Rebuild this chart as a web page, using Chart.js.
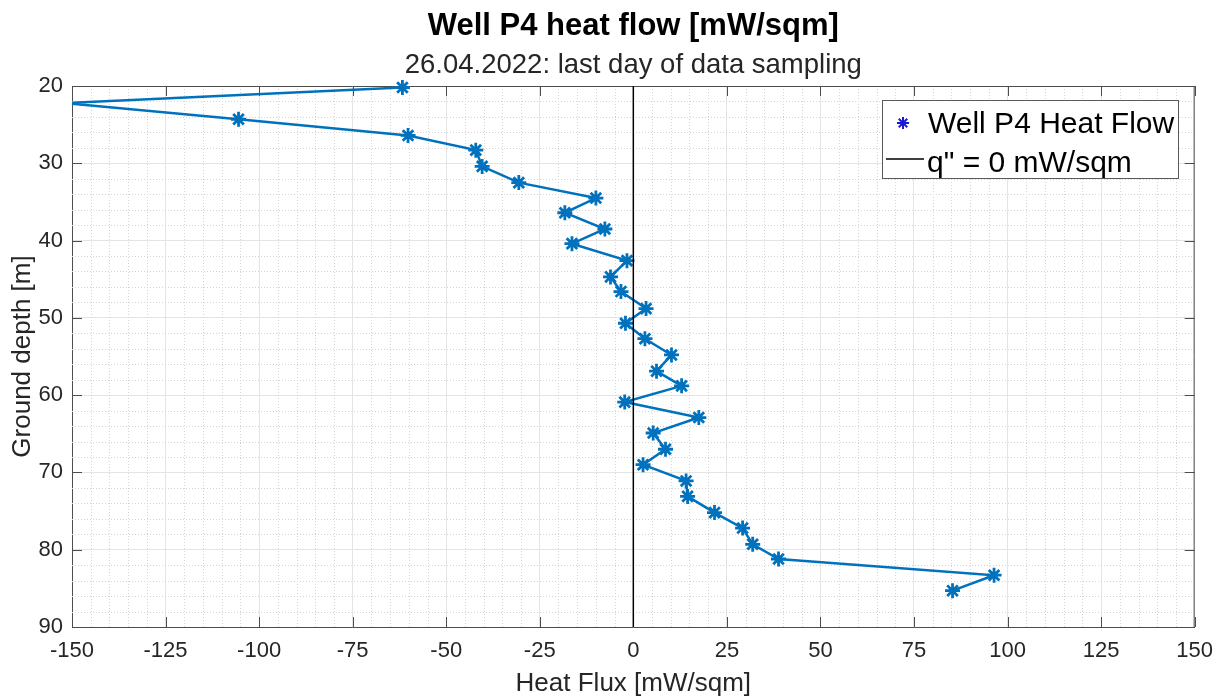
<!DOCTYPE html>
<html>
<head>
<meta charset="utf-8">
<title>Well P4 heat flow</title>
<script src="https://cdn.jsdelivr.net/npm/chart.js@4.4.1/dist/chart.umd.min.js"></script>
<style>
  html, body { margin: 0; padding: 0; background: #fff; }
  #wrap { width: 1224px; height: 699px; }
</style>
</head>
<body>
<div id="wrap"><canvas id="chart" width="1224" height="699"></canvas></div>
<script>
// sample depths [m], top to bottom
const depths = [20.2, 22.2, 24.3, 26.4, 28.3, 30.4, 32.5, 34.5, 36.4, 38.5, 40.4,
  42.6, 44.7, 46.6, 48.8, 50.7, 52.7, 54.8, 56.9, 58.8, 60.9, 62.9, 64.9,
  67.0, 69.0, 71.1, 73.1, 75.2, 77.2, 79.3, 81.2, 83.3, 85.3];
// heat flux [mW/sqm] at each depth (2nd sample is off the left edge)
const heatFlux = [-61.7, -152, -105.5, -60.2, -42.1, -40.4, -30.6, -10.0, -18.3, -7.6, -16.4,
  -1.7, -6.1, -3.3, 3.4, -2.1, 3.1, 10.2, 6.2, 12.9, -2.3, 17.5, 5.3,
  8.6, 2.6, 14.1, 14.5, 21.7, 29.2, 31.9, 38.8, 96.4, 85.3];
// q" = 0 reference line
const zeroFlux = [0, 0];
const zeroDepth = [20, 90];

const X_MIN = -150, X_MAX = 150, X_STEP = 25, X_MINOR = 5;
const Y_MIN = 20, Y_MAX = 90, Y_STEP = 10, Y_MINOR = 2;

const FONT = '"Liberation Sans", Arial, Helvetica, sans-serif';
const TEXT = '#262626';
const AXIS = '#4d4d4d';
const BLUE = '#0072BD';

// matlab-ish box: minor dotted grid, inner ticks, top/right edges
const axesBox = {
  id: 'axesBox',
  beforeDatasetsDraw(chart) {
    const { ctx, chartArea: a, scales: { x, y } } = chart;
    ctx.save();
    ctx.lineWidth = 1;
    ctx.strokeStyle = '#d4d4d4';
    ctx.setLineDash([1, 2]);
    ctx.beginPath();
    for (let v = X_MIN + X_MINOR; v < X_MAX; v += X_MINOR) {
      if (v % X_STEP === 0) continue;
      const px = Math.round(x.getPixelForValue(v)) + 0.5;
      ctx.moveTo(px, a.top);
      ctx.lineTo(px, a.bottom);
    }
    for (let v = Y_MIN + Y_MINOR; v < Y_MAX; v += Y_MINOR) {
      if (v % Y_STEP === 0) continue;
      const py = Math.round(y.getPixelForValue(v)) + 0.5;
      ctx.moveTo(a.left, py);
      ctx.lineTo(a.right, py);
    }
    ctx.stroke();
    ctx.setLineDash([]);

    ctx.strokeStyle = AXIS;
    ctx.beginPath();
    const T = 10;
    x.ticks.forEach(t => {
      const px = Math.round(x.getPixelForValue(t.value)) + 0.5;
      ctx.moveTo(px, a.bottom); ctx.lineTo(px, a.bottom - T);
      ctx.moveTo(px, a.top); ctx.lineTo(px, a.top + T);
    });
    y.ticks.forEach(t => {
      const py = Math.round(y.getPixelForValue(t.value)) + 0.5;
      ctx.moveTo(a.left, py); ctx.lineTo(a.left + T, py);
      ctx.moveTo(a.right, py); ctx.lineTo(a.right - T, py);
    });
    // top and right edges
    ctx.moveTo(a.left, a.top + 0.5); ctx.lineTo(a.right, a.top + 0.5);
    ctx.moveTo(a.right - 0.5, a.top); ctx.lineTo(a.right - 0.5, a.bottom);
    ctx.stroke();
    ctx.restore();
  },
  afterDraw(chart) {
    const { ctx, chartArea: a } = chart;
    const cx = (a.left + a.right) / 2;
    ctx.save();
    // title + subtitle
    ctx.fillStyle = '#000';
    ctx.textAlign = 'center';
    ctx.textBaseline = 'alphabetic';
    ctx.font = 'bold 31px ' + FONT;
    ctx.fillText('Well P4 heat flow [mW/sqm]', cx, 35);
    ctx.fillStyle = TEXT;
    ctx.font = '27.5px ' + FONT;
    ctx.fillText('26.04.2022: last day of data sampling', cx, 73);

    // legend box
    ctx.fillStyle = '#fff';
    ctx.fillRect(882, 100, 297, 79);
    ctx.strokeStyle = '#5a5a5a';
    ctx.lineWidth = 1;
    ctx.strokeRect(882.5, 100.5, 296, 78);

    // star marker
    const sx = 903, sy = 123, r = 6;
    ctx.strokeStyle = '#1a1ad6';
    ctx.lineWidth = 2;
    ctx.beginPath();
    for (let k = 0; k < 4; k++) {
      const ang = k * Math.PI / 4;
      ctx.moveTo(sx - r * Math.cos(ang), sy - r * Math.sin(ang));
      ctx.lineTo(sx + r * Math.cos(ang), sy + r * Math.sin(ang));
    }
    ctx.stroke();

    ctx.strokeStyle = '#000';
    ctx.lineWidth = 1.5;
    ctx.beginPath();
    ctx.moveTo(886, 159);
    ctx.lineTo(924, 159);
    ctx.stroke();

    ctx.fillStyle = '#000';
    ctx.textAlign = 'left';
    ctx.font = '30px ' + FONT;
    ctx.fillText('Well P4 Heat Flow', 928, 133);
    ctx.fillText('q" = 0 mW/sqm', 927, 172);
    ctx.restore();
  }
};

const ctx = document.getElementById('chart').getContext('2d');
new Chart(ctx, {
  type: 'scatter',
  data: {
    datasets: [{
      label: 'q" = 0 mW/sqm',
      data: zeroFlux.map((v, i) => ({ x: v, y: zeroDepth[i] })),
      showLine: true,
      borderColor: '#000',
      borderWidth: 1.5,
      pointRadius: 0
    }, {
      label: 'Well P4 Heat Flow',
      data: heatFlux.map((v, i) => ({ x: v, y: depths[i] })),
      showLine: true,
      borderColor: BLUE,
      borderWidth: 2.5,
      pointStyle: 'star',
      pointRadius: c => (c.raw && c.raw.x < X_MIN ? 0 : 7.5),
      pointBorderWidth: 2.8,
      pointBorderColor: BLUE,
      pointBackgroundColor: BLUE,
      clip: { left: 0, top: 12, right: 0, bottom: 0 }
    }]
  },
  options: {
    responsive: false,
    animation: false,
    layout: { padding: { left: 0, right: 27, top: 86, bottom: 0 } },
    plugins: {
      legend: { display: false },
      title: { display: false },
      tooltip: { enabled: false }
    },
    scales: {
      x: {
        type: 'linear',
        position: 'bottom',
        min: X_MIN,
        max: X_MAX,
        afterFit: s => { s.height = 72; },
        ticks: {
          stepSize: X_STEP,
          padding: 11,
          color: TEXT,
          font: { family: FONT, size: 22 },
          maxRotation: 0
        },
        grid: { color: '#e4e4e4', drawTicks: false },
        border: { display: true, color: AXIS, width: 1 },
        title: {
          display: true,
          text: 'Heat Flux [mW/sqm]',
          color: TEXT,
          font: { family: FONT, size: 26 },
          padding: { top: 0, bottom: 0 }
        }
      },
      y: {
        type: 'linear',
        reverse: true,
        min: Y_MIN,
        max: Y_MAX,
        afterFit: s => { s.width = 72; },
        ticks: {
          stepSize: Y_STEP,
          padding: 9,
          color: TEXT,
          font: { family: FONT, size: 22 }
        },
        grid: { color: '#e4e4e4', drawTicks: false },
        border: { display: true, color: AXIS, width: 1 },
        title: {
          display: true,
          text: 'Ground depth [m]',
          color: TEXT,
          font: { family: FONT, size: 26 },
          padding: { top: 7, bottom: 0 }
        }
      }
    }
  },
  plugins: [axesBox]
});
</script>
</body>
</html>
